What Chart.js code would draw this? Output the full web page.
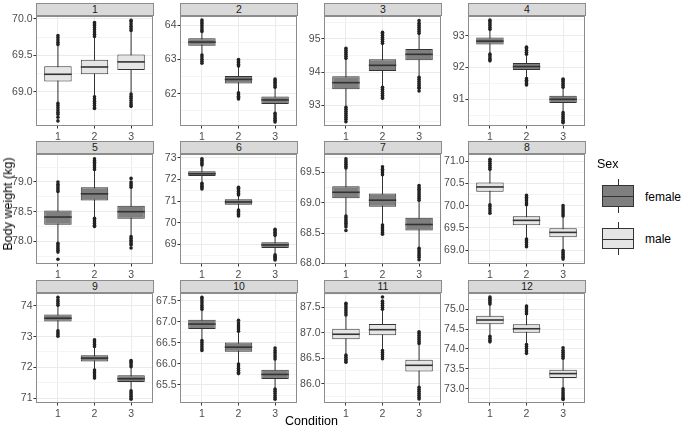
<!DOCTYPE html>
<html>
<head>
<meta charset="utf-8">
<script src="https://cdn.jsdelivr.net/npm/chart.js@4.4.1/dist/chart.umd.min.js"></script>
<style>
  body { margin: 0; background: #fff; width: 683px; height: 427px; overflow: hidden; position: relative;
         font-family: 'Liberation Sans', Arial, sans-serif; }
  canvas, .strip, .txt, .kbox, .kline { position: absolute; }
  .strip { box-sizing: border-box; height: 13px; background: #d9d9d9; border: 1px solid #8c8c8c;
           font-size: 10.5px; line-height: 11px; text-align: center; color: #1a1a1a; }
  .txt { font-size: 12px; color: #000; white-space: nowrap; }
  .kbox { box-sizing: border-box; border: 1px solid #333; }
  .kline { background: #333; }
</style>
</head>
<body>
<script>
// data
const panels = ['1', '2', '3', '4', '5', '6', '7', '8', '9', '10', '11', '12'];
const panelSex = ['male', 'female', 'female', 'female', 'female', 'female',
                  'female', 'male', 'female', 'female', 'male', 'male'];
const conditions = [1, 2, 3];

const whiskerLow = [
  [68.85, 68.94, 68.98], [63.14, 62.04, 61.44], [92.95, 93.55, 93.85], [92.43, 91.66, 90.59],
  [77.98, 78.40, 78.09], [71.83, 70.60, 68.53], [68.79, 68.64, 68.26], [70.03, 69.26, 69.00],
  [73.20, 71.92, 71.25], [66.57, 66.01, 65.41], [86.57, 86.66, 85.94], [74.33, 74.12, 73.01]
];
const boxQ1 = [
  [69.14, 69.24, 69.30], [63.40, 62.30, 61.70], [93.48, 94.03, 94.35], [92.72, 91.92, 90.88],
  [78.28, 78.69, 78.38], [72.16, 70.83, 68.84], [69.07, 68.93, 68.54], [70.31, 69.56, 69.29],
  [73.49, 72.19, 71.52], [66.83, 66.29, 65.64], [86.87, 86.95, 86.24], [74.62, 74.41, 73.27]
];
const boxMedian = [
  [69.24, 69.34, 69.41], [63.51, 62.42, 61.82], [93.68, 94.20, 94.53], [92.83, 92.03, 91.00],
  [78.41, 78.80, 78.50], [72.26, 70.96, 68.98], [69.17, 69.04, 68.64], [70.42, 69.67, 69.40],
  [73.60, 72.30, 71.63], [66.95, 66.40, 65.75], [86.97, 87.06, 86.36], [74.73, 74.51, 73.38]
];
const boxQ3 = [
  [69.35, 69.44, 69.51], [63.62, 62.52, 61.92], [93.87, 94.38, 94.69], [92.94, 92.14, 91.11],
  [78.52, 78.91, 78.60], [72.37, 71.08, 69.10], [69.27, 69.15, 68.75], [70.52, 69.76, 69.49],
  [73.72, 72.39, 71.74], [67.05, 66.51, 65.86], [87.08, 87.17, 86.47], [74.84, 74.62, 73.48]
];
const whiskerHigh = [
  [69.64, 69.75, 69.83], [63.80, 62.80, 62.18], [94.40, 94.85, 95.15], [93.19, 92.41, 91.37],
  [78.83, 79.20, 78.90], [72.65, 71.27, 69.41], [69.56, 69.45, 69.03], [70.81, 70.01, 69.76],
  [74.01, 72.67, 72.01], [67.29, 66.77, 66.11], [87.34, 87.45, 86.78], [75.12, 74.88, 73.76]
];
const outliersLow = [
  [[68.84,68.81,68.78,68.75,68.72,68.69,68.65,68.60],[68.93,68.90,68.87,68.84,68.81,68.78,68.77],[68.97,68.94,68.91,68.88,68.85,68.82,68.80]],
  [[63.13,63.07,63.01,62.95,62.89],[62.03,61.98,61.93,61.89,61.85],[61.43,61.38,61.33,61.28,61.23,61.18]],
  [[92.94,92.88,92.82,92.76,92.70,92.64,92.58,92.51],[93.54,93.48,93.42,93.36,93.30,93.25,93.21],[93.84,93.78,93.72,93.66,93.60,93.54,93.51,93.43]],
  [[92.42,92.36,92.30,92.25,92.21],[91.65,91.60,91.55,91.50,91.45],[90.58,90.52,90.46,90.40,90.34,90.29,90.26]],
  [[77.97,77.94,77.91,77.88,77.85,77.82,77.70],[78.39,78.36,78.33,78.30,78.27,78.25],[78.08,78.05,78.02,77.99,77.96,77.94,77.89]],
  [[71.82,71.75,71.68,71.62,71.56],[70.59,70.52,70.45,70.38,70.31],[68.52,68.46,68.40,68.34,68.29]],
  [[68.78,68.75,68.72,68.69,68.66,68.63,68.60,68.54],[68.63,68.60,68.57,68.54,68.51,68.48],[68.25,68.22,68.19,68.16,68.13,68.10,68.06]],
  [[70.02,69.98,69.93,69.88,69.83],[69.25,69.21,69.17,69.12,69.08],[68.99,68.95,68.91,68.87,68.84,68.80]],
  [[73.19,73.13,73.07,73.01],[71.91,71.85,71.79,71.72,71.65],[71.24,71.18,71.12,71.06,71.00,70.96]],
  [[66.56,66.51,66.46,66.41,66.36,66.32],[66.00,65.95,65.90,65.85,65.80,65.77],[65.40,65.35,65.30,65.25,65.20,65.16]],
  [[86.56,86.52,86.48,86.45,86.42],[86.65,86.61,86.57,86.53,86.49],[85.93,85.89,85.85,85.81,85.77,85.73,85.70]],
  [[74.32,74.27,74.22,74.18],[74.11,74.06,74.01,73.95,73.89],[73.00,72.95,72.90,72.85,72.80,72.76,72.73]]
];
const outliersHigh = [
  [[69.65,69.68,69.71,69.74,69.77],[69.76,69.79,69.82,69.85,69.88,69.91,69.93,69.95],[69.84,69.87,69.90,69.93,69.96,69.98]],
  [[63.82,63.87,63.93,63.99,64.05,64.10,64.15],[62.81,62.86,62.91,62.96,63.00],[62.19,62.24,62.29,62.34,62.39,62.43]],
  [[94.41,94.47,94.53,94.59,94.65,94.71],[94.86,94.92,94.98,95.04,95.10,95.15,95.19],[95.16,95.22,95.28,95.34,95.40,95.46,95.54]],
  [[93.20,93.26,93.32,93.38,93.44,93.49],[92.42,92.48,92.54,92.59,92.64],[91.38,91.44,91.50,91.56,91.61,91.64]],
  [[78.84,78.87,78.90,78.93,78.96,79.00],[79.21,79.24,79.27,79.30,79.33,79.36,79.39],[78.91,78.94,78.97,79.00,79.06]],
  [[72.66,72.73,72.80,72.88,72.95],[71.28,71.36,71.44,71.52,71.58,71.64],[69.42,69.49,69.56,69.63,69.70]],
  [[69.57,69.60,69.63,69.66,69.69,69.72],[69.46,69.49,69.52,69.55,69.59],[69.04,69.07,69.10,69.13,69.16,69.19,69.22,69.25,69.28]],
  [[70.82,70.86,70.91,70.95,71.00,71.04],[70.02,70.06,70.11,70.15,70.19,70.23],[69.77,69.81,69.86,69.90,69.95,70.00]],
  [[74.02,74.08,74.14,74.20,74.28],[72.68,72.74,72.80,72.86,72.90],[72.02,72.08,72.14,72.18,72.22]],
  [[67.30,67.35,67.40,67.45,67.50,67.55,67.59],[66.78,66.83,66.88,66.93,66.98,67.04],[66.12,66.17,66.22,66.27,66.32,66.38]],
  [[87.35,87.39,87.43,87.47,87.51,87.55,87.58],[87.46,87.50,87.54,87.58,87.62,87.70],[86.79,86.83,86.87,86.91,86.95,86.99,87.02]],
  [[75.13,75.18,75.23,75.27,75.31],[74.89,74.94,74.99,75.04,75.08],[73.77,73.82,73.87,73.92,73.97,74.03]]
];

// per-panel y axes (free scales)
const yMin = [68.53, 61.06, 92.38, 90.16, 77.62, 68.10, 67.99, 68.69, 70.84, 65.07, 85.62, 72.64];
const yMax = [70.04, 64.27, 95.68, 93.62, 79.47, 73.17, 69.80, 71.16, 74.42, 67.69, 87.78, 75.41];
const yMajorTicks = [
  [69.0, 69.5, 70.0], [62, 63, 64], [93, 94, 95], [91, 92, 93],
  [78.0, 78.5, 79.0], [69, 70, 71, 72, 73], [68.0, 68.5, 69.0, 69.5], [69.0, 69.5, 70.0, 70.5, 71.0],
  [71, 72, 73, 74], [65.5, 66.0, 66.5, 67.0, 67.5], [86.0, 86.5, 87.0, 87.5], [73.0, 73.5, 74.0, 74.5, 75.0]
];
const yMinorTicks = [
  [68.75, 69.25, 69.75], [61.5, 62.5, 63.5], [92.5, 93.5, 94.5, 95.5], [90.5, 91.5, 92.5, 93.5],
  [77.75, 78.25, 78.75, 79.25], [68.5, 69.5, 70.5, 71.5, 72.5], [68.25, 68.75, 69.25, 69.75], [68.75, 69.25, 69.75, 70.25, 70.75],
  [71.5, 72.5, 73.5], [65.25, 65.75, 66.25, 66.75, 67.25], [85.75, 86.25, 86.75, 87.25, 87.75], [72.75, 73.25, 73.75, 74.25, 74.75, 75.25]
];
const yDecimals = [1, 0, 0, 0, 1, 0, 1, 1, 0, 1, 1, 1];

// look and layout
const FILL = { female: '#7f7f7f', male: '#e5e5e5' };
const LINE = '#333333';
const BOX_WIDTH = 0.75;
const FONT = "'Liberation Sans', Arial, sans-serif";
const PLOT_W = 118, PLOT_H = 110;
const colLeft = [36, 180, 324, 468];
const rowTop = [16, 154, 293];
const AXIS_W = 34, PAD_TOP = 10, AXIS_H = 20, PAD_RIGHT = 3;

const panelBorder = {
  id: 'panelBorder',
  afterDraw(chart) {
    const { ctx, chartArea: a } = chart;
    ctx.save();
    ctx.strokeStyle = '#8c8c8c';
    ctx.lineWidth = 1;
    ctx.strokeRect(Math.round(a.left) + 0.5, Math.round(a.top) + 0.5,
                   Math.round(a.width) - 1, Math.round(a.height) - 1);
    ctx.restore();
  }
};

function addDiv(cls, text, css) {
  const d = document.createElement('div');
  d.className = cls;
  if (text) d.textContent = text;
  Object.assign(d.style, css);
  document.body.appendChild(d);
  return d;
}

function drawPanel(i) {
  const left = colLeft[i % 4], top = rowTop[Math.floor(i / 4)];

  addDiv('strip', panels[i], { left: left + 'px', top: (top - 13) + 'px', width: PLOT_W + 'px' });

  const canvas = document.createElement('canvas');
  canvas.width = AXIS_W + PLOT_W + PAD_RIGHT;
  canvas.height = PAD_TOP + PLOT_H + AXIS_H;
  canvas.style.left = (left - AXIS_W) + 'px';
  canvas.style.top = (top - PAD_TOP) + 'px';
  canvas.style.width = canvas.width + 'px';
  canvas.style.height = canvas.height + 'px';
  document.body.appendChild(canvas);

  const whiskers = conditions.map((c, j) => ({
    type: 'line', order: 4,
    data: [{ x: c, y: whiskerLow[i][j] }, { x: c, y: whiskerHigh[i][j] }],
    borderColor: LINE, borderWidth: 1, pointRadius: 0
  }));
  const boxes = {
    type: 'bar', order: 3,
    data: conditions.map((c, j) => ({ x: c, y: [boxQ1[i][j], boxQ3[i][j]] })),
    backgroundColor: FILL[panelSex[i]], borderColor: LINE, borderWidth: 1, borderSkipped: false,
    barPercentage: BOX_WIDTH, categoryPercentage: 1
  };
  const medians = {
    type: 'scatter', order: 2,
    data: conditions.map((c, j) => ({ x: c, y: boxMedian[i][j] })),
    pointStyle: 'line', borderColor: LINE, borderWidth: 1.6,
    pointRadius: ctx => {
      const s = ctx.chart.scales.x;
      return (s.getPixelForValue(2) - s.getPixelForValue(1)) * BOX_WIDTH / 2;
    }
  };
  const outliers = {
    type: 'scatter', order: 1,
    data: conditions.flatMap((c, j) =>
      outliersLow[i][j].concat(outliersHigh[i][j]).map(v => ({ x: c, y: v }))),
    pointRadius: 1.8, backgroundColor: '#222', borderWidth: 0
  };

  const major = yMajorTicks[i];
  const isMajor = v => major.includes(v);
  const tickFont = { family: FONT, size: 10.5 };

  new Chart(canvas, {
    type: 'bar',
    data: { datasets: [...whiskers, boxes, medians, outliers] },
    options: {
      responsive: false,
      animation: false,
      layout: { padding: { top: PAD_TOP, right: PAD_RIGHT, left: 0, bottom: 0 } },
      plugins: { legend: { display: false }, tooltip: { enabled: false } },
      scales: {
        x: {
          type: 'linear', min: 0.4, max: 3.6, offset: false,
          afterBuildTicks: s => { s.ticks = conditions.map(v => ({ value: v })); },
          afterFit: s => { s.height = AXIS_H; },
          ticks: { color: '#4d4d4d', font: tickFont, padding: 2, autoSkip: false, maxRotation: 0,
                   callback: v => String(v) },
          grid: { color: '#ebebeb', offset: false, tickColor: LINE, tickLength: 2.5 },
          border: { display: false }
        },
        y: {
          type: 'linear', min: yMin[i], max: yMax[i],
          afterBuildTicks: s => {
            s.ticks = major.concat(yMinorTicks[i]).sort((a, b) => a - b).map(v => ({ value: v }));
          },
          afterFit: s => { s.width = AXIS_W; },
          ticks: { color: '#4d4d4d', font: tickFont, padding: 1, autoSkip: false,
                   callback: v => isMajor(v) ? v.toFixed(yDecimals[i]) : '' },
          grid: {
            color: ctx => (ctx.tick && isMajor(ctx.tick.value)) ? '#ebebeb' : '#f4f4f4',
            tickColor: ctx => (ctx.tick && isMajor(ctx.tick.value)) ? LINE : 'rgba(0,0,0,0)',
            tickLength: 2.5
          },
          border: { display: false }
        }
      }
    },
    plugins: [panelBorder]
  });
}

panels.forEach((p, i) => drawPanel(i));

// axis titles
addDiv('txt', 'Condition', { left: '311.5px', top: '421px', transform: 'translate(-50%, -50%)', fontSize: '12.5px' });
addDiv('txt', 'Body weight (kg)', { left: '8px', top: '204px', transform: 'translate(-50%, -50%) rotate(-90deg)', fontSize: '12.5px' });

// legend
addDiv('txt', 'Sex', { left: '597px', top: '157px', fontSize: '12.5px' });
const legendKeys = [
  { sex: 'female', wTop: 179, wBot: 213, bTop: 185, bBot: 207, labelY: 197 },
  { sex: 'male', wTop: 222, wBot: 255, bTop: 228, bBot: 249, labelY: 239 }
];
legendKeys.forEach(k => {
  addDiv('kline', '', { left: '618px', top: k.wTop + 'px', width: '1px', height: (k.wBot - k.wTop) + 'px' });
  addDiv('kbox', '', { left: '602px', top: k.bTop + 'px', width: '32px', height: (k.bBot - k.bTop) + 'px',
                       background: FILL[k.sex] });
  addDiv('kline', '', { left: '602px', top: Math.round((k.bTop + k.bBot) / 2) + 'px', width: '32px', height: '1px' });
  addDiv('txt', k.sex, { left: '645px', top: k.labelY + 'px', transform: 'translateY(-50%)' });
});
</script>
</body>
</html>
